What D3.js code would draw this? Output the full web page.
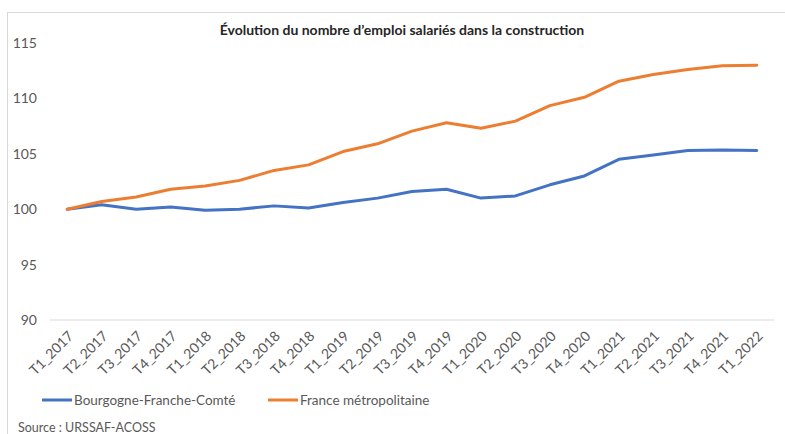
<!DOCTYPE html>
<html>
<head>
<meta charset="utf-8">
<script src="https://cdn.jsdelivr.net/npm/d3@7"></script>
<style>
  body { margin: 0; background: #fff; }
  text { font-family: "Lato", "Liberation Sans", sans-serif; }
</style>
</head>
<body>
<div id="chart"></div>
<script>
const categories = ['T1_2017', 'T2_2017', 'T3_2017', 'T4_2017', 'T1_2018', 'T2_2018', 'T3_2018', 'T4_2018',
  'T1_2019', 'T2_2019', 'T3_2019', 'T4_2019', 'T1_2020', 'T2_2020', 'T3_2020', 'T4_2020',
  'T1_2021', 'T2_2021', 'T3_2021', 'T4_2021', 'T1_2022'];
const bfcValues = [100, 100.4, 100.0, 100.2, 99.9, 100.0, 100.3, 100.1,
  100.6, 101.0, 101.6, 101.8, 101.0, 101.2, 102.2, 103.0,
  104.5, 104.9, 105.3, 105.35, 105.3];
const franceValues = [100, 100.7, 101.1, 101.8, 102.1, 102.6, 103.5, 104.0,
  105.2, 105.9, 107.05, 107.8, 107.3, 107.95, 109.35, 110.1,
  111.55, 112.15, 112.6, 112.95, 113.0];
const yTicks = [90, 95, 100, 105, 110, 115];
const seriesNames = ['Bourgogne-Franche-Comté', 'France métropolitaine'];
const colors = ['#4472C4', '#ED7D31'];

const width = 785;
const height = 434;
const margin = { top: 43, right: 11, bottom: 114, left: 50 };

const svg = d3.select('#chart')
  .append('svg')
  .attr('width', width)
  .attr('height', height);

// chart frame
svg.append('rect')
  .attr('x', 7.5)
  .attr('y', 12.5)
  .attr('width', width + 20)
  .attr('height', height + 20)
  .attr('fill', 'none')
  .attr('stroke', '#d9d9d9');

svg.append('text')
  .attr('x', 402)
  .attr('y', 35)
  .attr('text-anchor', 'middle')
  .attr('font-size', 14)
  .attr('font-weight', 'bold')
  .attr('fill', '#262626')
  .text('Évolution du nombre d’emploi salariés dans la construction');

const x = d3.scaleBand()
  .domain(categories)
  .range([margin.left, width - margin.right]);

const y = d3.scaleLinear()
  .domain([90, 115])
  .range([height - margin.bottom, margin.top]);

// baseline
svg.append('line')
  .attr('x1', margin.left)
  .attr('x2', width - margin.right)
  .attr('y1', y(90))
  .attr('y2', y(90))
  .attr('stroke', '#d9d9d9');

const yAxis = (g) => g
  .attr('transform', `translate(${margin.left - 13},0)`)
  .call(d3.axisLeft(y).tickValues(yTicks).tickSize(0).tickPadding(0))
  .call((g) => g.select('.domain').remove())
  .call((g) => g.selectAll('text')
    .attr('font-size', 14)
    .attr('fill', '#595959')
    .style('font-family', '"Lato", "Liberation Sans", sans-serif'));

svg.append('g').call(yAxis);

const xAxis = (g) => g
  .attr('transform', `translate(0,${y(90)})`)
  .call(d3.axisBottom(x).tickSize(0))
  .call((g) => g.select('.domain').remove())
  .call((g) => g.selectAll('text')
    .attr('font-size', 14)
    .attr('fill', '#595959')
    .style('font-family', '"Lato", "Liberation Sans", sans-serif')
    .attr('text-anchor', 'end')
    .attr('dy', 0)
    .attr('y', 0)
    .attr('transform', 'translate(7,17) rotate(-45)'));

svg.append('g').call(xAxis);

const line = d3.line()
  .x((d, i) => x(categories[i]) + x.bandwidth() / 2)
  .y((d) => y(d));

[bfcValues, franceValues].forEach((values, k) => {
  svg.append('path')
    .datum(values)
    .attr('fill', 'none')
    .attr('stroke', colors[k])
    .attr('stroke-width', 3)
    .attr('stroke-linejoin', 'round')
    .attr('stroke-linecap', 'round')
    .attr('d', line);
});

// legend
const legendX = [42, 268];
const legend = svg.append('g');
seriesNames.forEach((name, k) => {
  legend.append('line')
    .attr('x1', legendX[k])
    .attr('x2', legendX[k] + 30)
    .attr('y1', 400)
    .attr('y2', 400)
    .attr('stroke', colors[k])
    .attr('stroke-width', 3);
  legend.append('text')
    .attr('x', legendX[k] + 32)
    .attr('y', 405)
    .attr('font-size', 13.5)
    .attr('fill', '#595959')
    .text(name);
});

svg.append('text')
  .attr('x', 18)
  .attr('y', 432)
  .attr('font-size', 12.5)
  .attr('fill', '#595959')
  .text('Source : URSSAF-ACOSS');
</script>
</body>
</html>
